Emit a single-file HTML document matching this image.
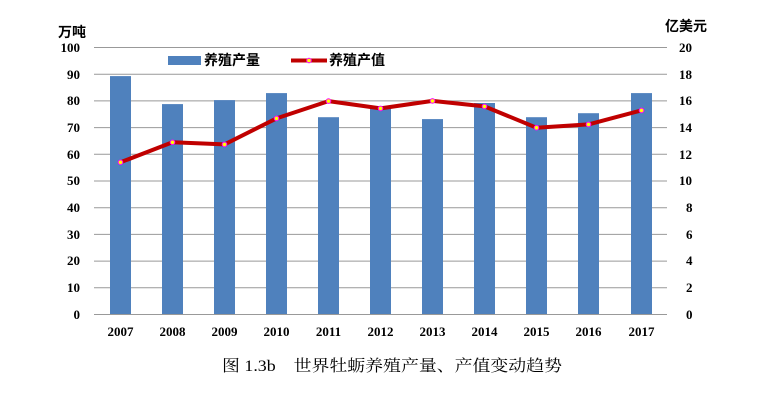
<!DOCTYPE html>
<html><head><meta charset="utf-8"><style>
html,body{margin:0;padding:0;background:#fff;}
svg{display:block;}
.t{font-family:"Liberation Serif","Noto Serif CJK SC",serif;font-weight:bold;font-size:13px;fill:#000;}
.c{font-family:"Liberation Sans","Noto Sans CJK SC",sans-serif;font-weight:bold;font-size:14px;fill:#000;}
</style></head><body>
<svg width="769" height="404" viewBox="0 0 769 404" xmlns="http://www.w3.org/2000/svg">
<g stroke="#999" stroke-width="1">
<line x1="94" y1="47.5" x2="667" y2="47.5"/>
<line x1="94" y1="74.2" x2="667" y2="74.2"/>
<line x1="94" y1="100.9" x2="667" y2="100.9"/>
<line x1="94" y1="127.6" x2="667" y2="127.6"/>
<line x1="94" y1="154.3" x2="667" y2="154.3"/>
<line x1="94" y1="181" x2="667" y2="181"/>
<line x1="94" y1="207.7" x2="667" y2="207.7"/>
<line x1="94" y1="234.4" x2="667" y2="234.4"/>
<line x1="94" y1="261.1" x2="667" y2="261.1"/>
<line x1="94" y1="287.8" x2="667" y2="287.8"/>
</g>
<g fill="#4f81bd">
<rect x="110" y="76.1" width="21" height="238.4"/>
<rect x="162" y="104.1" width="21" height="210.4"/>
<rect x="214" y="100.1" width="21" height="214.4"/>
<rect x="266" y="93.1" width="21" height="221.4"/>
<rect x="318" y="117.2" width="21" height="197.3"/>
<rect x="370" y="107.6" width="21" height="206.9"/>
<rect x="422" y="119.1" width="21" height="195.4"/>
<rect x="474" y="103.0" width="21" height="211.5"/>
<rect x="526" y="117.2" width="21" height="197.3"/>
<rect x="578" y="113.2" width="21" height="201.3"/>
<rect x="631" y="93.1" width="21" height="221.4"/>
</g>
<line x1="94" y1="314.5" x2="667" y2="314.5" stroke="#999" stroke-width="1"/>
<polyline fill="none" stroke="#c00000" stroke-width="4" stroke-linejoin="round" points="120.5,162.3 172.5,142.3 224.5,144.4 276.5,118.4 328.5,101.1 380.5,108.4 432.5,100.9 484.5,106.4 536.5,127.7 588.5,124.4 641.5,110.4"/>
<g fill="#ffff00" stroke="#ff00ff" stroke-width="1">
<circle cx="120.5" cy="162.3" r="2.3"/><circle cx="172.5" cy="142.3" r="2.3"/><circle cx="224.5" cy="144.4" r="2.3"/><circle cx="276.5" cy="118.4" r="2.3"/><circle cx="328.5" cy="101.1" r="2.3"/><circle cx="380.5" cy="108.4" r="2.3"/><circle cx="432.5" cy="100.9" r="2.3"/><circle cx="484.5" cy="106.4" r="2.3"/><circle cx="536.5" cy="127.7" r="2.3"/><circle cx="588.5" cy="124.4" r="2.3"/><circle cx="641.5" cy="110.4" r="2.3"/>
</g>
<rect x="168" y="56" width="33" height="9" fill="#4f81bd"/>
<text x="204" y="65" class="c">养殖产量</text>
<line x1="291" y1="60.5" x2="327" y2="60.5" stroke="#c00000" stroke-width="4"/>
<circle cx="309" cy="60.5" r="2.3" fill="#ffff00" stroke="#ff00ff" stroke-width="1"/>
<text x="329" y="65" class="c">养殖产值</text>
<text x="58" y="37" class="c">万吨</text>
<text x="665" y="31" class="c">亿美元</text>
<g class="t" text-anchor="end">
<text x="80" y="52">100</text><text x="80" y="79">90</text><text x="80" y="105">80</text><text x="80" y="132">70</text><text x="80" y="159">60</text><text x="80" y="185">50</text><text x="80" y="212">40</text><text x="80" y="239">30</text><text x="80" y="265">20</text><text x="80" y="292">10</text><text x="80" y="319">0</text>
</g>
<g class="t" text-anchor="start">
<text x="679" y="52">20</text><text x="679" y="79">18</text><text x="679" y="105">16</text><text x="679" y="132">14</text><text x="679" y="159">12</text><text x="679" y="185">10</text><text x="686" y="212">8</text><text x="686" y="239">6</text><text x="686" y="265">4</text><text x="686" y="292">2</text><text x="686" y="319">0</text>
</g>
<g class="t" text-anchor="middle">
<text x="120.5" y="336">2007</text><text x="172.5" y="336">2008</text><text x="224.5" y="336">2009</text><text x="276.5" y="336">2010</text><text x="328.5" y="336">2011</text><text x="380.5" y="336">2012</text><text x="432.5" y="336">2013</text><text x="484.5" y="336">2014</text><text x="536.5" y="336">2015</text><text x="588.5" y="336">2016</text><text x="641.5" y="336">2017</text>
</g>
<text x="222" y="371" font-family="Liberation Serif,'Noto Serif CJK SC',serif" font-size="16" fill="#000" textLength="340" lengthAdjust="spacingAndGlyphs" xml:space="preserve">图 1.3b    世界牡蛎养殖产量、产值变动趋势</text>
</svg>
</body></html>
